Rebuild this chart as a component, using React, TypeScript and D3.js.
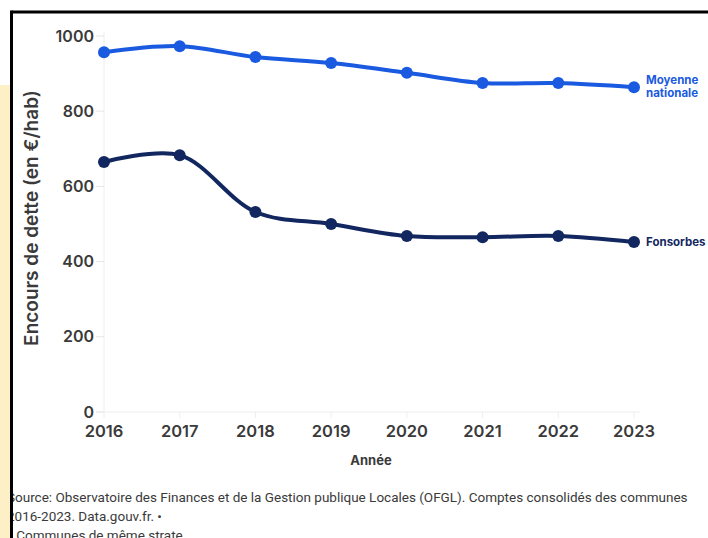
import React from "react";
import * as d3 from "d3";

const years = [2016, 2017, 2018, 2019, 2020, 2021, 2022, 2023];
const moyenne = [957, 973, 944, 928, 902, 875, 875, 864];
const fonsorbes = [665, 683, 532, 500, 468, 465, 468, 452];
const yTicks = [0, 200, 400, 600, 800, 1000];
const sourceLines = [
  "Source: Observatoire des Finances et de la Gestion publique Locales (OFGL). Comptes consolidés des communes",
  "2016-2023. Data.gouv.fr. •",
  "* Communes de même strate.",
];

const W = 708;
const H = 538;
const BLUE = "#1a5ae0";
const NAVY = "#12275f";
const TXT = "#3a3a3a";
const FONT = "Inter, 'Open Sans', sans-serif";

export default function App() {
  const x = d3.scaleLinear().domain([2016, 2023]).range([104, 634]);
  const y = d3.scaleLinear().domain([0, 1000]).range([412, 36]);
  const line = d3
    .line<number>()
    .x((_, i) => x(years[i]))
    .y((d) => y(d))
    .curve(d3.curveCatmullRom.alpha(0.5));

  const series = [
    { vals: moyenne, color: BLUE, label: ["Moyenne", "nationale"] },
    { vals: fonsorbes, color: NAVY, label: ["Fonsorbes"] },
  ];

  return (
    <svg
      width={W}
      height={H}
      style={{ position: "absolute", left: 0, top: 0, background: "#fff" }}
      fontFamily={FONT}
    >
      {/* axes / faint grid */}
      <line x1={x(2016)} x2={x(2016)} y1={y(1000) - 4} y2={y(0)} stroke="#eeeeee" strokeWidth={1} />
      <line x1={x(2016) - 8} x2={x(2023) + 6} y1={y(0)} y2={y(0)} stroke="#eeeeee" strokeWidth={1} />
      {yTicks.map((t) => (
        <line key={"yt" + t} x1={x(2016) - 8} x2={x(2016)} y1={y(t)} y2={y(t)} stroke="#e6e6e6" />
      ))}
      {years.map((yr) => (
        <line key={"xt" + yr} x1={x(yr)} x2={x(yr)} y1={y(0)} y2={y(0) + 6} stroke="#eeeeee" />
      ))}
      {yTicks.map((t) => (
        <text
          key={"yl" + t}
          x={94}
          y={y(t)}
          dy="0.35em"
          textAnchor="end"
          fontSize={16}
          fontWeight={600}
          fill={TXT}
        >
          {t}
        </text>
      ))}
      {years.map((yr) => (
        <text
          key={"xl" + yr}
          x={x(yr)}
          y={437}
          textAnchor="middle"
          fontSize={16.5}
          fontWeight={600}
          fill={TXT}
        >
          {yr}
        </text>
      ))}
      <text x={371} y={465} textAnchor="middle" fontSize={13} fontWeight={700} fill={TXT}>
        Année
      </text>
      <text
        transform={`translate(38,${218}) rotate(-90)`}
        textAnchor="middle"
        fontSize={19}
        fontWeight={600}
        fill={TXT}
      >
        Encours de dette (en €/hab)
      </text>

      {series.map((s, si) => (
        <g key={"s" + si}>
          <path d={line(s.vals) || ""} fill="none" stroke={s.color} strokeWidth={4} strokeLinecap="round" />
          {s.vals.map((v, i) => (
            <circle key={i} cx={x(years[i])} cy={y(v)} r={6} fill={s.color} />
          ))}
          {s.label.map((l, li) => (
            <text
              key={li}
              x={646}
              y={y(s.vals[s.vals.length - 1]) + (s.label.length === 2 ? -3 + li * 12.5 : 4)}
              fontSize={11.5}
              fontWeight={700}
              fill={s.color}
            >
              {l}
            </text>
          ))}
        </g>
      ))}

      {sourceLines.map((l, i) => (
        <text key={"src" + i} x={7} y={502 + i * 19} fontSize={13.5} fill={TXT} fontFamily="Roboto, sans-serif">
          {l}
        </text>
      ))}

      {/* screenshot frame */}
      <rect x={0} y={85} width={10} height={H - 85} fill="#fdf0c6" />
      <line x1={11.5} x2={W} y1={12} y2={12} stroke="#000" strokeWidth={3} />
      <line x1={11.5} x2={11.5} y1={10.5} y2={H} stroke="#000" strokeWidth={3} />
    </svg>
  );
}
